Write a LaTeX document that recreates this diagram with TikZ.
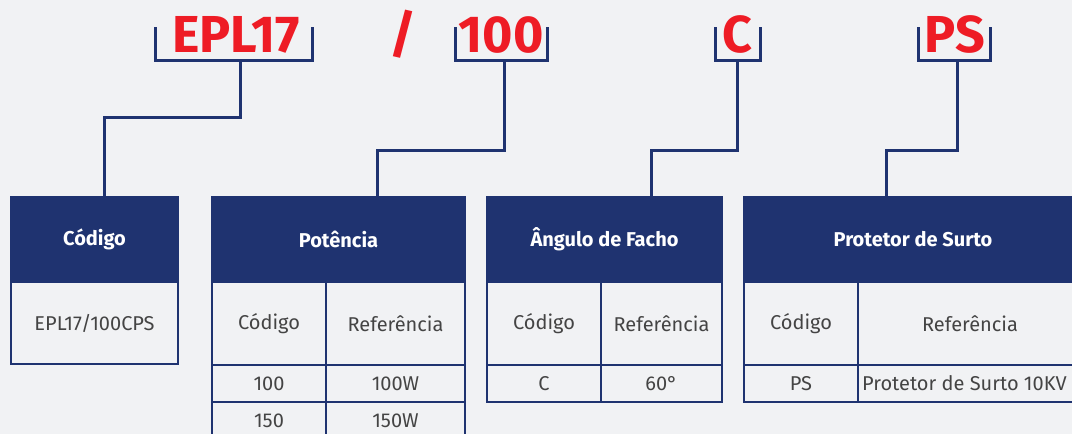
\documentclass[tikz,border=0pt]{standalone}
\usepackage{fontspec}
\setmainfont{Fira Sans}
\definecolor{navy}{HTML}{1F3370}
\definecolor{codered}{HTML}{EE1C25}
\definecolor{bg}{HTML}{F1F2F4}
\definecolor{bodytxt}{HTML}{444444}
\begin{document}
\begin{tikzpicture}[x=1pt,y=-1pt,
  code/.style={text=codered,font=\fontsize{52}{52}\selectfont\bfseries,inner sep=0,anchor=base},
  brk/.style={draw=navy,line width=3pt},
  conn/.style={draw=navy,line width=3pt},
  head/.style={fill=navy,draw=navy,line width=2pt,inner sep=0,text=white,font=\fontsize{20}{20}\selectfont\bfseries},
  cell/.style={draw=navy,line width=2pt,inner sep=0,text=bodytxt,font=\fontsize{20}{20}\selectfont},
  celltext/.style={text=bodytxt,font=\fontsize{20}{20}\selectfont,inner sep=0}]
\fill[bg] (0,0) rectangle (1072,434);
\useasboundingbox (0,0) rectangle (1072,434);
\clip (0,0) rectangle (1072,434);
% codes
\node[code] (c1) at (236,52) {EPL17};
\node[code] (sl) at (403,52) {/};
\node[code] (c2) at (501,52) {100};
\node[code] (c3) at (737,52) {C};
\node[code] (c4) at (955,52) {PS};
% brackets
\draw[brk] (155,27) -- (155,60) -- (312,60) -- (312,27);
\draw[brk] (455,27) -- (455,60) -- (547,60) -- (547,27);
\draw[brk] (715,27) -- (715,60) -- (760,60) -- (760,27);
\draw[brk] (918,27) -- (918,60) -- (990,60) -- (990,27);
\coordinate (b1) at (240,60);
\coordinate (b2) at (504,60);
\coordinate (b3) at (737,60);
\coordinate (b4) at (957,60);
% headers
\node[head,minimum width=167pt,minimum height=85pt] (h1) at (94.5,239.5) {Código};
\node[head,minimum width=253pt,minimum height=85pt] (h2) at (338.5,239.5) {Potência};
\node[head,minimum width=235pt,minimum height=85pt] (h3) at (604.5,239.5) {Ângulo de Facho};
\node[head,minimum width=338pt,minimum height=85pt] (h4) at (913,239.5) {Protetor de Surto};
% connectors
\coordinate (k1) at (104,117);
\coordinate (k2) at (377,150);
\coordinate (k3) at (651,150);
\coordinate (k4) at (886,150);
\draw[conn] (b1) |- (k1) -- (k1 |- h1.north);
\draw[conn] (b2) |- (k2) -- (k2 |- h2.north);
\draw[conn] (b3) |- (k3) -- (k3 |- h3.north);
\draw[conn] (b4) |- (k4) -- (k4 |- h4.north);
% box 1
\node[cell,minimum width=167pt,minimum height=82pt] (t1) at (94.5,323) {EPL17/100CPS};
% box 2
\node[cell,minimum width=114pt,minimum height=83pt] (p11) at (269,323.5) {Código};
\node[cell,minimum width=139pt,minimum height=83pt] (p12) at (395.5,323.5) {Referência};
\node[cell,minimum width=114pt,minimum height=37pt] (p21) at (269,383.5) {100};
\node[cell,minimum width=139pt,minimum height=37pt] (p22) at (395.5,383.5) {100W};
\node[cell,minimum width=114pt,minimum height=38pt] (p31) at (269,421) {150};
\node[cell,minimum width=139pt,minimum height=38pt] (p32) at (395.5,421) {150W};
% box 3
\node[cell,minimum width=114pt,minimum height=83pt] (a11) at (544,323.5) {Código};
\node[cell,minimum width=121pt,minimum height=83pt] (a12) at (661.5,323.5) {Referência};
\node[cell,minimum width=114pt,minimum height=37pt] (a21) at (544,383.5) {C};
\node[cell,minimum width=121pt,minimum height=37pt] (a22) at (661.5,383.5) {60°};
% box 4
\node[cell,minimum width=114pt,minimum height=83pt] (s11) at (801,323.5) {Código};
\node[cell,minimum width=224pt,minimum height=83pt] (s12) at (970,323.5) {Referência};
\node[cell,minimum width=114pt,minimum height=37pt] (s21) at (801,383.5) {PS};
\node[cell,minimum width=224pt,minimum height=37pt] (s22) at (970,383.5) {};
\node[celltext,anchor=west] (s22t) at (862,383.5) {Protetor de Surto 10KV};
\end{tikzpicture}
\end{document}
